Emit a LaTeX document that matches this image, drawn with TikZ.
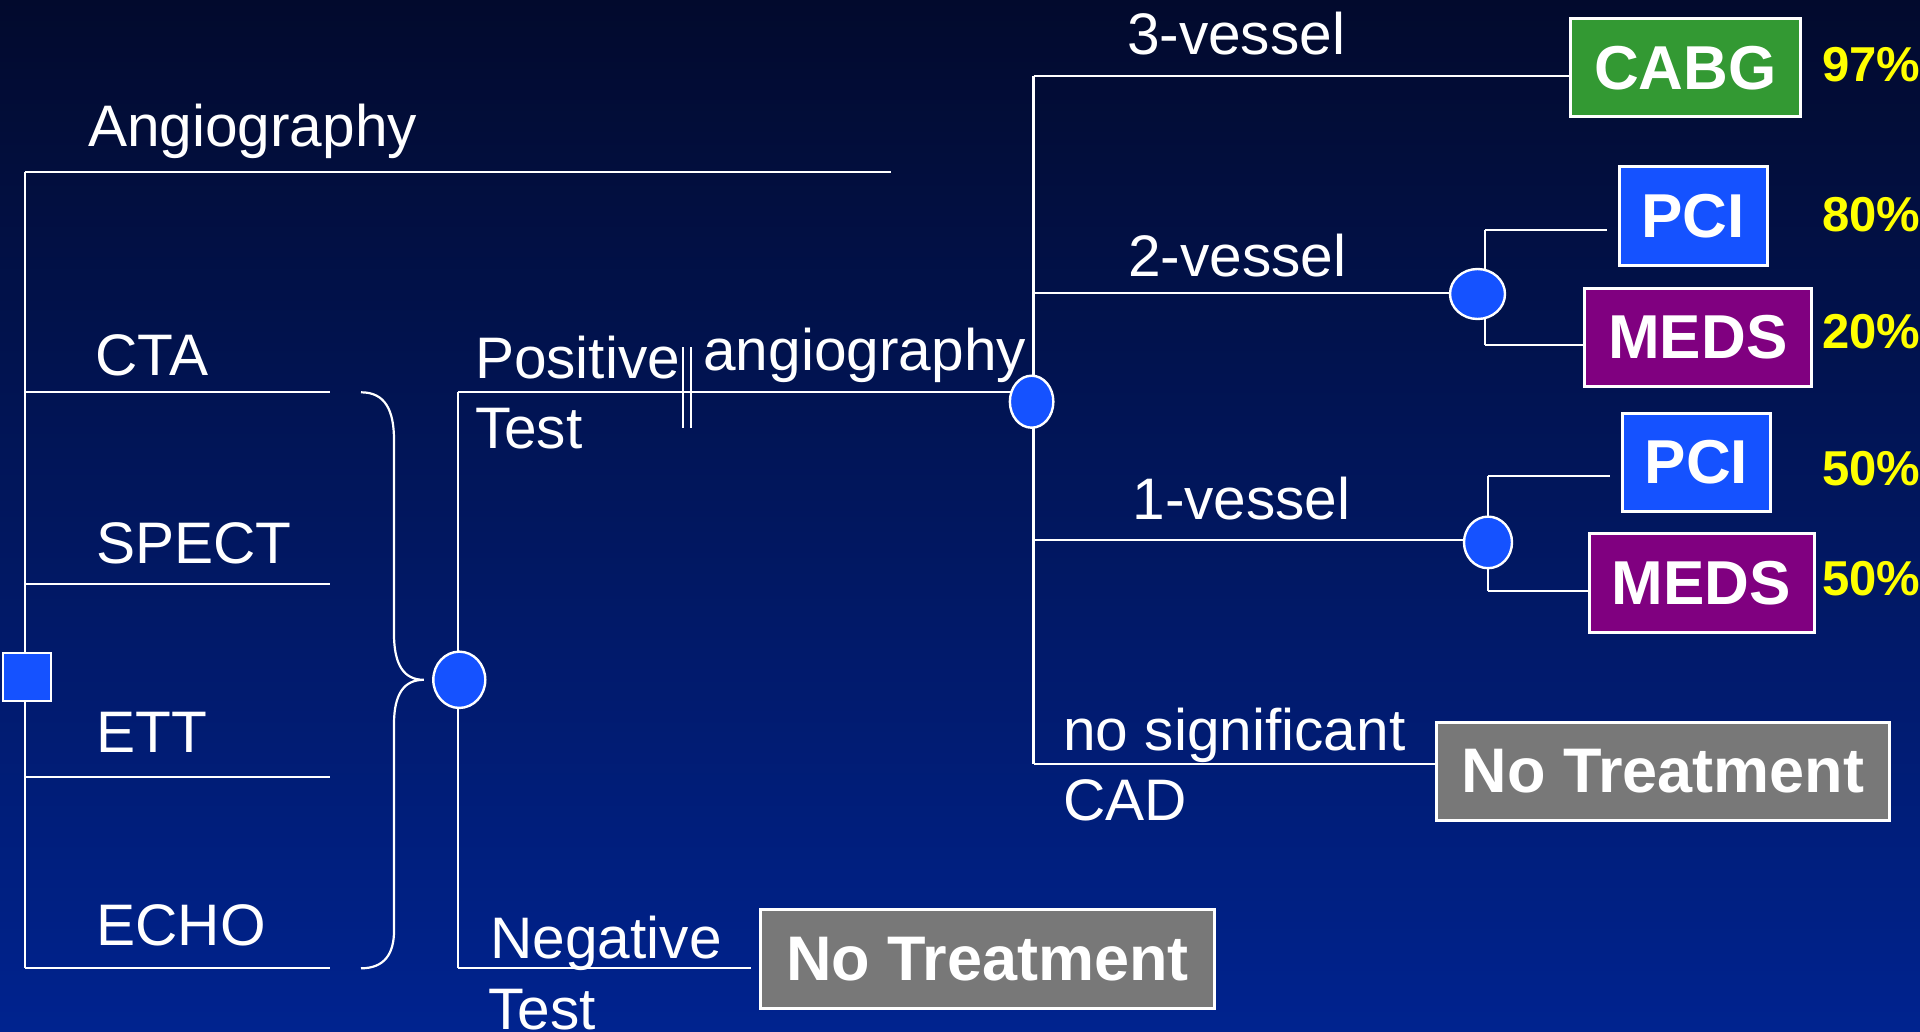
\documentclass[tikz,border=0pt]{standalone}
\usepackage{fontspec}
\setmainfont{Liberation Sans}
\usetikzlibrary{calc,shapes.geometric}
\definecolor{bgtop}{RGB}{2,10,45}
\definecolor{bgmid}{RGB}{0,24,105}
\definecolor{bgbot}{RGB}{0,35,143}
\definecolor{nodeblue}{RGB}{21,82,255}
\definecolor{cabggreen}{RGB}{51,153,51}
\definecolor{medspurple}{RGB}{128,0,128}
\definecolor{ntgray}{RGB}{120,120,120}
\definecolor{pctyellow}{RGB}{255,255,0}
\pgfdeclarelayer{back}
\pgfdeclarelayer{lines}
\pgfsetlayers{back,lines,main}
\begin{document}
\begin{tikzpicture}[x=0.5pt,y=-0.5pt,
  branch/.style={draw=white,line width=1.1pt},
  lbl/.style={inner sep=0pt,anchor=base west,text=white,font=\fontsize{29.3}{32}\selectfont},
  pct/.style={inner sep=0pt,anchor=base west,text=pctyellow,font=\bfseries\fontsize{24.5}{28}\selectfont},
  box/.style={rectangle,draw=white,line width=1.5pt,inner sep=0pt,text=white,font=\bfseries\fontsize{31}{34}\selectfont},
  ntbox/.style={box,fill=ntgray,font=\bfseries\fontsize{31.5}{34}\selectfont},
  chance/.style={ellipse,draw=white,line width=1.2pt,fill=nodeblue,inner sep=0pt},
  decision/.style={rectangle,draw=white,line width=1.2pt,fill=nodeblue,inner sep=0pt}
]
\useasboundingbox (0,0) rectangle (1920,1032);
\begin{pgfonlayer}{back}
\shade[top color=bgtop, middle color=bgmid, bottom color=bgbot] (0,0) rectangle (1920,1032);
\end{pgfonlayer}
\clip (0,0) rectangle (1920,1032);

% decision and chance nodes
\node[decision, minimum width=24pt, minimum height=24.1pt] (dec) at (27.2,676.8) {};
\node[chance, minimum width=26pt, minimum height=28.15pt] (etest) at (459.3,679.8) {};
\node[chance, minimum width=21.75pt, minimum height=26pt] (eangio) at (1031.6,401.7) {};
\node[chance, minimum width=27.5pt, minimum height=25pt] (e2) at (1477.5,294) {};
\node[chance, minimum width=24pt, minimum height=25.8pt] (e1) at (1488,542.4) {};

% outcome boxes
\node[box, fill=cabggreen, minimum width=114.75pt, minimum height=49pt] (cabg) at (1685.25,68) {CABG};
\node[box, fill=nodeblue, minimum width=73.75pt, minimum height=49.15pt] (pci1) at (1693.25,215.85) {PCI};
\node[box, fill=medspurple, minimum width=113.2pt, minimum height=49pt] (meds1) at (1697.8,337) {MEDS};
\node[box, fill=nodeblue, minimum width=73.7pt, minimum height=49.35pt] (pci2) at (1696.3,462.35) {PCI};
\node[box, fill=medspurple, minimum width=112.5pt, minimum height=49.2pt] (meds2) at (1701.5,583.1) {MEDS};
\node[ntbox, minimum width=226.6pt, minimum height=48.85pt] (nt1) at (1663,771.15) {No Treatment};
\node[ntbox, minimum width=226.7pt, minimum height=49.2pt] (nt2) at (987.3,958.8) {No Treatment};

% labels
\node[lbl] (lAngio) at (87.6,146.7) {Angiography};
\node[lbl] (lCTA) at (95,375) {CTA};
\node[lbl] (lSPECT) at (96,563.5) {SPECT};
\node[lbl] (lETT) at (96,752.8) {ETT};
\node[lbl] (lECHO) at (96,945.2) {ECHO};
\node[lbl] (lPos) at (474.6,378) {Positive};
\node[lbl] (lPosT) at (474.6,448) {Test};
\node[lbl] (lang) at (703,370) {angiography};
\node[lbl] (l3v) at (1126.6,55) {3-vessel};
\node[lbl] (l2v) at (1128,276) {2-vessel};
\node[lbl] (l1v) at (1132,519) {1-vessel};
\node[lbl] (lnsig) at (1063,750.4) {no significant};
\node[lbl] (lcad) at (1063,820) {CAD};
\node[lbl] (lNeg) at (490,958) {Negative};
\node[lbl] (lNegT) at (488,1029) {Test};

% percentages
\node[pct] (p97) at (1822,81.7) {97\%};
\node[pct] (p80) at (1822,232) {80\%};
\node[pct] (p20) at (1822,348) {20\%};
\node[pct] (p50a) at (1822,485) {50\%};
\node[pct] (p50b) at (1822,595.7) {50\%};

% connector coordinates
\coordinate (tTop) at (25,172.3);
\coordinate (tBot) at (25,968.3);
\coordinate (angioEnd) at (891,172.3);
\coordinate (ctaEnd) at (329.5,392.3);
\coordinate (spectEnd) at (329.5,584.2);
\coordinate (ettEnd) at (329.5,776.6);
\coordinate (echoEnd) at (329.5,968.3);
\coordinate (pTop) at (458,392.3);
\coordinate (pBot) at (458,968.3);
\coordinate (negEnd) at (751.4,968.3);
\coordinate (aTop) at (1033.5,76);
\coordinate (aBot) at (1033.5,763.7);
\coordinate (v2) at (1033.5,293.3);
\coordinate (v1) at (1033.5,539.7);
\coordinate (s2top) at (1484.8,230);
\coordinate (s2bot) at (1484.8,345);
\coordinate (pci1End) at (1607,230);
\coordinate (s1top) at (1488,476);
\coordinate (s1bot) at (1488,591);
\coordinate (pci2End) at (1610,476);
\coordinate (dbA1) at (683,347);
\coordinate (dbA2) at (683,428);
\coordinate (dbB1) at (691,347);
\coordinate (dbB2) at (691,428);
\coordinate (brTop) at (361,392.3);
\coordinate (brTip) at (423.7,679.8);
\coordinate (brBot) at (361,968.3);

\begin{pgfonlayer}{lines}
\draw[branch] (tTop) -- (tBot);
\draw[branch] (tTop) -- (angioEnd);
\draw[branch] (tTop |- ctaEnd) -- (ctaEnd);
\draw[branch] (tTop |- spectEnd) -- (spectEnd);
\draw[branch] (tTop |- ettEnd) -- (ettEnd);
\draw[branch] (tTop |- echoEnd) -- (echoEnd);
% brace
\draw[branch] (brTop) .. controls (385,392.3) and (394,410) .. (394,440)
  -- (394,634) .. controls (394,665) and (404,679.8) .. (brTip)
  .. controls (404,679.8) and (394,694) .. (394,724)
  -- (394,931) .. controls (394,953) and (385,968.3) .. (brBot);
\draw[branch] (pTop) -- (pBot);
\draw[branch] (pTop) -- (pTop -| eangio.center);
\draw[branch] (pBot) -- (negEnd);
\draw[branch] (dbA1) -- (dbA2);
\draw[branch] (dbB1) -- (dbB2);
\draw[branch] (aTop) -- (aBot);
\draw[branch] (aTop) -- (aTop -| cabg.west);
\draw[branch] (v2) -- (v2 -| e2.center);
\draw[branch] (v1) -- (v1 -| e1.center);
\draw[branch] (aBot) -- (aBot -| nt1.west);
\draw[branch] (s2top) -- (s2bot);
\draw[branch] (s2top) -- (pci1End);
\draw[branch] (s2bot) -- (s2bot -| meds1.west);
\draw[branch] (s1top) -- (s1bot);
\draw[branch] (s1top) -- (pci2End);
\draw[branch] (s1bot) -- (s1bot -| meds2.west);
\end{pgfonlayer}
\end{tikzpicture}
\end{document}
